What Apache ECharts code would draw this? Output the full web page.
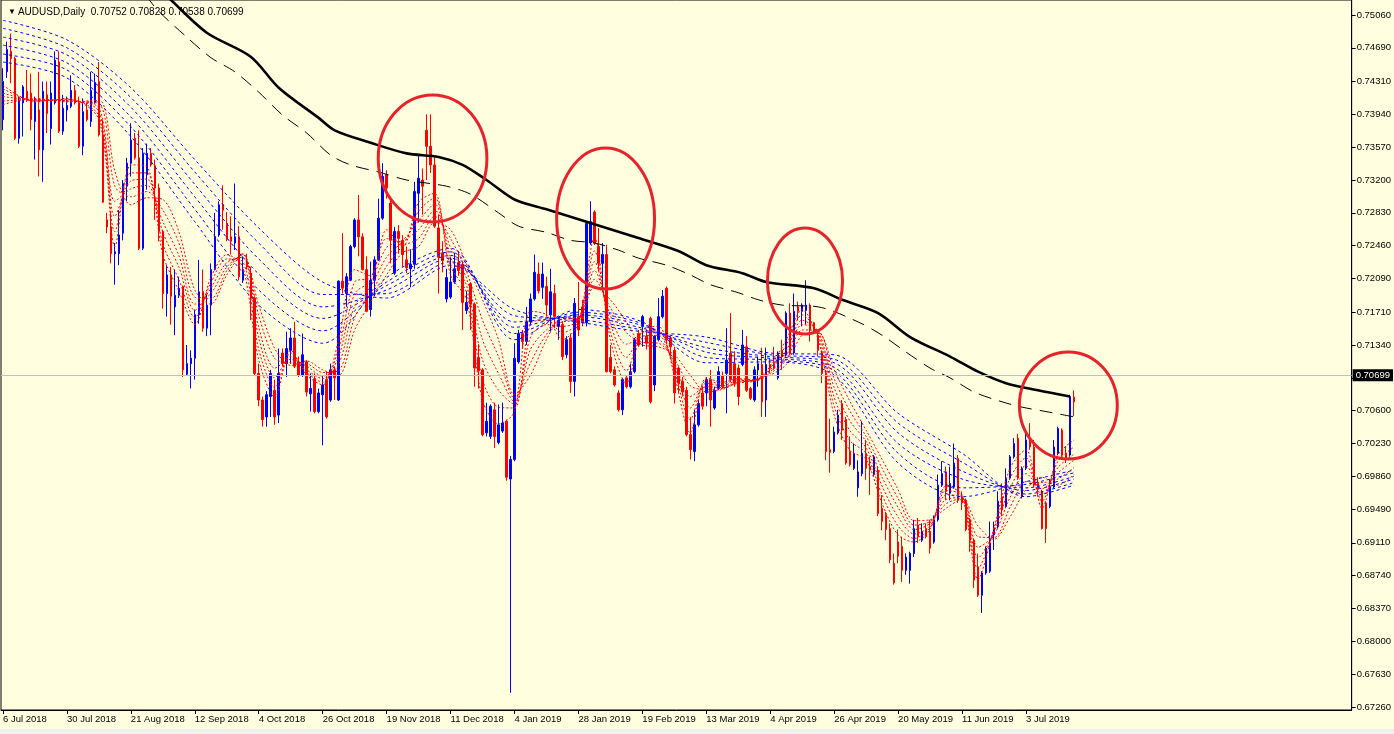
<!DOCTYPE html>
<html><head><meta charset="utf-8">
<script src="https://cdn.jsdelivr.net/npm/echarts@6/dist/echarts.min.js"></script>
<style>
html,body{margin:0;padding:0;background:#ffffe0;overflow:hidden;}
#c{position:absolute;left:0;top:0;width:1394px;height:734px;}
#strip{position:absolute;left:0;top:729px;width:1394px;height:5px;background:#f0f0ec;}
</style>
</head><body><div id="c"></div><div id="strip"></div>
<script>
// ---------- DATA ----------
const symbolName = 'AUDUSD,Daily';
const dateLabels = ['6 Jul 2018','30 Jul 2018','21 Aug 2018','12 Sep 2018','4 Oct 2018','26 Oct 2018','19 Nov 2018','11 Dec 2018','4 Jan 2019','28 Jan 2019','19 Feb 2019','13 Mar 2019','4 Apr 2019','26 Apr 2019','20 May 2019','11 Jun 2019','3 Jul 2019'];
const priceTickLabels = ['0.75060','0.74690','0.74310','0.73940','0.73570','0.73200','0.72830','0.72460','0.72090','0.71710','0.71340','0.70970','0.70600','0.70230','0.69860','0.69490','0.69110','0.68740','0.68370','0.68000','0.67630','0.67260'];
const bidPrice = 0.70699;
const slotCount = 338; // bars + empty right shift
// daily candles: [open, close, low, high]
const ohlc = [
[0.7388,0.7431,0.7376,0.7446],[0.7442,0.7467,0.7435,0.7476],[0.7465,0.7457,0.7429,0.7485],[0.7457,0.7367,0.7365,0.7459],[0.7367,0.7410,0.7361,0.7414],
[0.7407,0.7425,0.7369,0.7427],[0.7420,0.7410,0.7408,0.7444],[0.7418,0.7388,0.7376,0.7440],[0.7386,0.7408,0.7343,0.7414],[0.7399,0.7354,0.7324,0.7442],
[0.7354,0.7420,0.7318,0.7431],[0.7416,0.7395,0.7373,0.7431],[0.7378,0.7418,0.7360,0.7431],[0.7407,0.7455,0.7405,0.7465],[0.7453,0.7375,0.7373,0.7465],
[0.7375,0.7401,0.7371,0.7416],[0.7399,0.7404,0.7386,0.7414],[0.7403,0.7421,0.7401,0.7438],[0.7421,0.7407,0.7405,0.7427],[0.7407,0.7358,0.7356,0.7414],
[0.7358,0.7397,0.7348,0.7412],[0.7399,0.7388,0.7386,0.7407],[0.7386,0.7421,0.7380,0.7442],[0.7407,0.7430,0.7406,0.7440],[0.7431,0.7371,0.7369,0.7453],
[0.7371,0.7295,0.7294,0.7388],[0.7275,0.7267,0.7260,0.7283],[0.7267,0.7237,0.7226,0.7284],[0.7237,0.7239,0.7202,0.7249],[0.7237,0.7258,0.7224,0.7286],
[0.7260,0.7316,0.7252,0.7320],[0.7313,0.7339,0.7296,0.7345],[0.7339,0.7365,0.7324,0.7384],[0.7367,0.7345,0.7343,0.7373],[0.7345,0.7243,0.7241,0.7376],
[0.7243,0.7350,0.7241,0.7356],[0.7326,0.7350,0.7309,0.7361],[0.7350,0.7337,0.7335,0.7356],[0.7336,0.7311,0.7275,0.7343],[0.7311,0.7262,0.7251,0.7316],
[0.7262,0.7192,0.7175,0.7264],[0.7192,0.7213,0.7166,0.7224],[0.7213,0.7189,0.7157,0.7222],[0.7177,0.7190,0.7145,0.7219],[0.7190,0.7198,0.7187,0.7211],
[0.7200,0.7106,0.7098,0.7201],[0.7101,0.7113,0.7099,0.7134],[0.7113,0.7119,0.7085,0.7128],[0.7119,0.7168,0.7095,0.7174],[0.7168,0.7194,0.7158,0.7230],
[0.7194,0.7153,0.7149,0.7219],[0.7153,0.7179,0.7144,0.7191],[0.7179,0.7219,0.7145,0.7226],[0.7219,0.7256,0.7218,0.7283],[0.7258,0.7292,0.7256,0.7296],
[0.7292,0.7286,0.7264,0.7314],[0.7271,0.7253,0.7251,0.7284],[0.7256,0.7251,0.7236,0.7279],[0.7249,0.7256,0.7241,0.7316],[0.7256,0.7211,0.7207,0.7268],
[0.7207,0.7219,0.7204,0.7234],[0.7228,0.7222,0.7219,0.7237],[0.7215,0.7187,0.7162,0.7222],[0.7187,0.7102,0.7100,0.7189],[0.7102,0.7072,0.7065,0.7113],
[0.7072,0.7050,0.7042,0.7076],[0.7053,0.7078,0.7042,0.7082],[0.7076,0.7102,0.7053,0.7106],[0.7083,0.7053,0.7044,0.7095],[0.7055,0.7102,0.7046,0.7130],
[0.7125,0.7113,0.7110,0.7130],[0.7113,0.7130,0.7098,0.7149],[0.7128,0.7142,0.7113,0.7153],[0.7142,0.7110,0.7108,0.7160],[0.7115,0.7100,0.7098,0.7121],
[0.7100,0.7123,0.7098,0.7147],[0.7115,0.7081,0.7076,0.7117],[0.7079,0.7085,0.7059,0.7102],[0.7096,0.7059,0.7057,0.7102],[0.7059,0.7080,0.7057,0.7085],
[0.7078,0.7089,0.7021,0.7100],[0.7095,0.7053,0.7051,0.7104],[0.7072,0.7106,0.7070,0.7113],[0.7106,0.7097,0.7072,0.7110],[0.7072,0.7206,0.7071,0.7207],
[0.7206,0.7198,0.7192,0.7260],[0.7192,0.7211,0.7177,0.7215],[0.7207,0.7245,0.7206,0.7247],[0.7245,0.7275,0.7243,0.7277],[0.7275,0.7256,0.7234,0.7303],
[0.7256,0.7219,0.7218,0.7260],[0.7219,0.7172,0.7171,0.7234],[0.7174,0.7207,0.7166,0.7228],[0.7207,0.7230,0.7189,0.7234],[0.7230,0.7277,0.7229,0.7299],
[0.7277,0.7324,0.7275,0.7339],[0.7326,0.7311,0.7299,0.7331],[0.7294,0.7252,0.7226,0.7301],[0.7215,0.7262,0.7213,0.7267],[0.7262,0.7254,0.7237,0.7269],
[0.7252,0.7236,0.7222,0.7258],[0.7230,0.7221,0.7215,0.7245],[0.7220,0.7225,0.7199,0.7242],[0.7225,0.7307,0.7220,0.7318],[0.7305,0.7322,0.7272,0.7348],
[0.7320,0.7313,0.7281,0.7333],[0.7376,0.7358,0.7320,0.7394],[0.7358,0.7337,0.7328,0.7394],[0.7337,0.7268,0.7266,0.7346],[0.7266,0.7233,0.7192,0.7281],
[0.7238,0.7229,0.7216,0.7251],[0.7186,0.7210,0.7182,0.7220],[0.7188,0.7205,0.7186,0.7233],[0.7205,0.7220,0.7203,0.7238],[0.7227,0.7218,0.7212,0.7240],
[0.7225,0.7182,0.7151,0.7229],[0.7173,0.7182,0.7169,0.7195],[0.7203,0.7180,0.7151,0.7205],[0.7180,0.7108,0.7087,0.7182],[0.7120,0.7105,0.7085,0.7135],
[0.7106,0.7033,0.7031,0.7108],[0.7035,0.7048,0.7031,0.7069],[0.7031,0.7065,0.7028,0.7067],[0.7061,0.7031,0.7018,0.7069],[0.7024,0.7044,0.7022,0.7067],
[0.7037,0.7046,0.7035,0.7069],[0.7048,0.6985,0.6981,0.7050],[0.6983,0.7005,0.6742,0.7009],[0.7005,0.7119,0.7003,0.7136],[0.7115,0.7147,0.7113,0.7151],
[0.7147,0.7138,0.7130,0.7151],[0.7138,0.7160,0.7134,0.7177],[0.7160,0.7186,0.7156,0.7192],[0.7186,0.7216,0.7184,0.7236],[0.7214,0.7195,0.7192,0.7227],
[0.7199,0.7214,0.7186,0.7227],[0.7200,0.7179,0.7166,0.7211],[0.7168,0.7194,0.7149,0.7220],[0.7192,0.7166,0.7153,0.7202],[0.7155,0.7162,0.7140,0.7166],
[0.7157,0.7121,0.7117,0.7161],[0.7123,0.7140,0.7119,0.7144],[0.7142,0.7093,0.7080,0.7147],[0.7093,0.7181,0.7076,0.7187],[0.7166,0.7151,0.7144,0.7205],
[0.7177,0.7159,0.7155,0.7185],[0.7159,0.7271,0.7155,0.7273],[0.7249,0.7273,0.7247,0.7296],[0.7284,0.7249,0.7247,0.7286],[0.7245,0.7226,0.7217,0.7266],
[0.7226,0.7236,0.7194,0.7249],[0.7236,0.7104,0.7103,0.7247],[0.7120,0.7104,0.7102,0.7134],[0.7106,0.7089,0.7087,0.7110],[0.7080,0.7061,0.7059,0.7083],
[0.7061,0.7095,0.7055,0.7097],[0.7097,0.7087,0.7085,0.7100],[0.7087,0.7104,0.7085,0.7113],[0.7104,0.7140,0.7102,0.7142],[0.7147,0.7134,0.7132,0.7151],
[0.7155,0.7166,0.7132,0.7168],[0.7144,0.7136,0.7129,0.7151],[0.7164,0.7070,0.7068,0.7166],[0.7089,0.7144,0.7082,0.7145],[0.7140,0.7166,0.7138,0.7187],
[0.7166,0.7189,0.7164,0.7196],[0.7198,0.7140,0.7136,0.7200],[0.7142,0.7132,0.7121,0.7144],[0.7128,0.7080,0.7068,0.7132],[0.7108,0.7091,0.7080,0.7110],
[0.7093,0.7081,0.7076,0.7098],[0.7083,0.7033,0.7031,0.7087],[0.7033,0.7016,0.7005,0.7053],[0.7014,0.7044,0.7003,0.7061],[0.7044,0.7068,0.7042,0.7072],
[0.7080,0.7065,0.7061,0.7087],[0.7080,0.7095,0.7065,0.7098],[0.7095,0.7072,0.7042,0.7106],[0.7063,0.7083,0.7061,0.7087],[0.7085,0.7104,0.7083,0.7110],
[0.7100,0.7087,0.7085,0.7104],[0.7102,0.7117,0.7057,0.7153],[0.7125,0.7095,0.7093,0.7170],[0.7113,0.7091,0.7087,0.7127],[0.7108,0.7076,0.7066,0.7112],
[0.7112,0.7134,0.7110,0.7151],[0.7132,0.7083,0.7081,0.7144],[0.7085,0.7074,0.7072,0.7087],[0.7072,0.7106,0.7070,0.7110],[0.7106,0.7113,0.7087,0.7121],
[0.7112,0.7070,0.7053,0.7131],[0.7072,0.7112,0.7053,0.7131],[0.7112,0.7108,0.7102,0.7119],[0.7113,0.7108,0.7106,0.7132],[0.7097,0.7125,0.7095,0.7127],
[0.7128,0.7121,0.7106,0.7140],[0.7123,0.7170,0.7121,0.7172],[0.7170,0.7125,0.7123,0.7181],[0.7125,0.7172,0.7123,0.7192],[0.7177,0.7172,0.7162,0.7183],
[0.7172,0.7179,0.7155,0.7181],[0.7173,0.7179,0.7157,0.7207],[0.7179,0.7151,0.7138,0.7181],[0.7159,0.7149,0.7147,0.7160],[0.7145,0.7128,0.7121,0.7147],
[0.7125,0.7102,0.7091,0.7128],[0.7102,0.7014,0.7004,0.7106],[0.7016,0.7013,0.6990,0.7051],[0.7014,0.7036,0.7012,0.7042],[0.7035,0.7055,0.7033,0.7061],
[0.7068,0.7038,0.7027,0.7072],[0.7050,0.7001,0.6999,0.7053],[0.7014,0.6999,0.6997,0.7031],[0.6995,0.7012,0.6993,0.7023],[0.6973,0.6991,0.6963,0.7004],
[0.6989,0.7012,0.6986,0.7048],[0.7012,0.6995,0.6982,0.7027],[0.6997,0.6993,0.6965,0.7008],[0.6988,0.7008,0.6986,0.7010],[0.6993,0.6944,0.6941,0.6997],
[0.6950,0.6935,0.6925,0.6965],[0.6942,0.6926,0.6914,0.6946],[0.6927,0.6892,0.6888,0.6933],[0.6888,0.6866,0.6864,0.6899],[0.6912,0.6896,0.6888,0.6926],
[0.6907,0.6880,0.6867,0.6918],[0.6880,0.6895,0.6875,0.6899],[0.6880,0.6899,0.6865,0.6901],[0.6899,0.6927,0.6895,0.6937],[0.6931,0.6918,0.6911,0.6939],
[0.6914,0.6924,0.6912,0.6933],[0.6927,0.6918,0.6916,0.6933],[0.6924,0.6905,0.6899,0.6937],[0.6912,0.6937,0.6910,0.6942],[0.6937,0.6976,0.6935,0.6988],
[0.6976,0.6989,0.6974,0.7003],[0.6991,0.6969,0.6959,0.6997],[0.6967,0.6978,0.6959,0.6997],[0.6974,0.7001,0.6972,0.7023],[0.7006,0.6959,0.6956,0.7010],
[0.6963,0.6956,0.6948,0.6969],[0.6959,0.6926,0.6924,0.6961],[0.6937,0.6914,0.6901,0.6939],[0.6914,0.6869,0.6860,0.6916],[0.6884,0.6852,0.6850,0.6899],
[0.6852,0.6877,0.6832,0.6879],[0.6877,0.6905,0.6875,0.6907],[0.6879,0.6911,0.6877,0.6935],[0.6920,0.6927,0.6903,0.6935],[0.6929,0.6958,0.6927,0.6969],
[0.6963,0.6948,0.6941,0.6978],[0.6952,0.6984,0.6950,0.6995],[0.6984,0.7008,0.6982,0.7010],[0.7008,0.7023,0.7006,0.7029],[0.7029,0.6984,0.6982,0.7034],
[0.6963,0.6995,0.6961,0.6997],[0.6995,0.7027,0.6993,0.7038],[0.7027,0.7019,0.7016,0.7046],[0.7019,0.6976,0.6974,0.7027],[0.6978,0.6972,0.6965,0.6985],
[0.6969,0.6927,0.6926,0.6971],[0.6956,0.6927,0.6911,0.6958],[0.6952,0.6974,0.6950,0.6982],[0.6974,0.7019,0.6972,0.7027],[0.7012,0.7040,0.7010,0.7042],
[0.7038,0.7010,0.7008,0.7040],[0.7012,0.7006,0.7001,0.7020],[0.7010,0.7076,0.7008,0.7078],[0.70752,0.70699,0.70538,0.70828]
];
// long black moving average (solid) sampled at bar indices
const slowMaIdx = [36,42,51,62,69,79,83,92,101,109,115,121,128,136,146,158,169,176,185,191,203,210,219,227,237,244,251,259,267];
const slowMaVal = [0.7549,0.7523,0.7486,0.7459,0.7424,0.7390,0.7376,0.7362,0.7350,0.7346,0.7337,0.7320,0.7298,0.7287,0.7273,0.7256,0.7240,0.7224,0.7215,0.7205,0.7198,0.7185,0.7170,0.7143,0.7121,0.7104,0.7091,0.7083,0.7076];
// long black moving average (dashed)
const dashMaIdx = [33,38,46,52,58,64,70,76,82,87,94,101,111,117,124,129,136,142,148,154,159,166,172,177,184,189,195,204,214,220,226,232,237,243,250,255,261,268];
const dashMaVal = [0.7548,0.7515,0.7481,0.7458,0.7442,0.7419,0.7393,0.7373,0.7348,0.7337,0.7329,0.7320,0.7313,0.7304,0.7283,0.7268,0.7261,0.7252,0.7249,0.7241,0.7232,0.7224,0.7213,0.7202,0.7193,0.7185,0.7179,0.7177,0.7160,0.7145,0.7126,0.7108,0.7097,0.7081,0.7070,0.7064,0.7059,0.7053];
// short guppy averages (red, dotted), sampled at bar indices
const shortIdx = [0,8,16,24,28,32,36,40,44,48,52,56,60,64,68,72,76,80,84,88,92,96,100,104,108,112,116,120,124,128,132,136,140,144,148,152,156,160,164,168,172,176,180,184,188,192,196,200,204,208,212,216,220,224,228,232,236,240,244,248,252,256,260,264,268];
const short1 = [0.7427,0.7408,0.7412,0.7388,0.7245,0.7337,0.7335,0.7236,0.7195,0.7157,0.7210,0.7236,0.7222,0.7117,0.7075,0.7128,0.7100,0.7089,0.7140,0.7219,0.7212,0.7264,0.7245,0.7295,0.7305,0.7213,0.7185,0.7072,0.7045,0.7059,0.7172,0.7168,0.7140,0.7158,0.7255,0.7140,0.7090,0.7151,0.7155,0.7100,0.7035,0.7097,0.7092,0.7096,0.7095,0.7110,0.7140,0.7174,0.7140,0.7055,0.7015,0.7005,0.6955,0.6920,0.6912,0.6926,0.6975,0.6965,0.6870,0.6928,0.6995,0.7016,0.6950,0.7010,0.7027];
const short2 = [0.7423,0.7409,0.7411,0.7392,0.7262,0.7328,0.7328,0.7248,0.7208,0.7165,0.7204,0.7231,0.7228,0.7129,0.7086,0.7125,0.7103,0.7092,0.7130,0.7205,0.7210,0.7254,0.7250,0.7285,0.7300,0.7223,0.7193,0.7095,0.7064,0.7063,0.7158,0.7162,0.7148,0.7160,0.7240,0.7149,0.7105,0.7148,0.7150,0.7105,0.7050,0.7094,0.7090,0.7095,0.7094,0.7108,0.7134,0.7168,0.7145,0.7065,0.7026,0.7012,0.6965,0.6930,0.6916,0.6928,0.6970,0.6964,0.6882,0.6926,0.6984,0.7007,0.6958,0.7003,0.7019];
const short3 = [0.7418,0.7410,0.7410,0.7397,0.7279,0.7319,0.7321,0.7261,0.7222,0.7173,0.7198,0.7227,0.7233,0.7142,0.7097,0.7121,0.7106,0.7096,0.7121,0.7192,0.7206,0.7244,0.7252,0.7274,0.7293,0.7233,0.7201,0.7117,0.7083,0.7067,0.7143,0.7157,0.7155,0.7162,0.7228,0.7158,0.7120,0.7144,0.7145,0.7109,0.7063,0.7091,0.7088,0.7094,0.7094,0.7106,0.7128,0.7162,0.7148,0.7075,0.7037,0.7018,0.6975,0.6940,0.6921,0.6930,0.6965,0.6963,0.6894,0.6923,0.6973,0.6998,0.6965,0.6996,0.7011];
const short4 = [0.7414,0.7410,0.7409,0.7401,0.7296,0.7310,0.7314,0.7273,0.7235,0.7180,0.7192,0.7222,0.7236,0.7154,0.7108,0.7118,0.7110,0.7099,0.7112,0.7178,0.7200,0.7233,0.7250,0.7264,0.7286,0.7244,0.7209,0.7140,0.7102,0.7070,0.7129,0.7151,0.7160,0.7163,0.7218,0.7167,0.7135,0.7141,0.7140,0.7114,0.7076,0.7087,0.7086,0.7093,0.7094,0.7104,0.7122,0.7157,0.7150,0.7086,0.7048,0.7025,0.6985,0.6951,0.6926,0.6933,0.6960,0.6962,0.6906,0.6920,0.6962,0.6989,0.6972,0.6990,0.7004];
const short5 = [0.7409,0.7411,0.7409,0.7406,0.7313,0.7301,0.7307,0.7286,0.7249,0.7188,0.7186,0.7218,0.7237,0.7167,0.7119,0.7114,0.7113,0.7103,0.7105,0.7165,0.7192,0.7223,0.7245,0.7254,0.7279,0.7254,0.7217,0.7162,0.7121,0.7074,0.7114,0.7146,0.7163,0.7164,0.7208,0.7176,0.7148,0.7137,0.7136,0.7118,0.7088,0.7084,0.7085,0.7092,0.7094,0.7102,0.7117,0.7151,0.7150,0.7096,0.7059,0.7031,0.6995,0.6961,0.6931,0.6935,0.6955,0.6961,0.6918,0.6917,0.6951,0.6980,0.6979,0.6983,0.6996];
const short6 = [0.7405,0.7412,0.7408,0.7410,0.7330,0.7292,0.7300,0.7298,0.7262,0.7196,0.7180,0.7213,0.7236,0.7179,0.7130,0.7111,0.7116,0.7106,0.7100,0.7151,0.7182,0.7213,0.7238,0.7245,0.7272,0.7264,0.7225,0.7185,0.7140,0.7078,0.7100,0.7140,0.7165,0.7164,0.7200,0.7185,0.7160,0.7134,0.7132,0.7123,0.7100,0.7081,0.7084,0.7091,0.7093,0.7100,0.7112,0.7145,0.7148,0.7106,0.7070,0.7038,0.7005,0.6971,0.6936,0.6937,0.6950,0.6960,0.6930,0.6915,0.6940,0.6971,0.6985,0.6976,0.6988];
// long guppy averages (blue, dotted)
const longIdx = [0,16,32,48,64,80,96,112,128,144,160,176,192,208,224,240,256,268];
const long1 = [0.7453,0.7435,0.7369,0.7273,0.7179,0.7136,0.7210,0.7243,0.7140,0.7174,0.7160,0.7114,0.7115,0.7100,0.7001,0.6963,0.6980,0.6993];
const long2 = [0.7462,0.7444,0.7380,0.7287,0.7196,0.7150,0.7205,0.7239,0.7147,0.7171,0.7158,0.7120,0.7117,0.7105,0.7012,0.6973,0.6977,0.6990];
const long3 = [0.7472,0.7452,0.7391,0.7301,0.7214,0.7164,0.7201,0.7235,0.7154,0.7168,0.7156,0.7126,0.7119,0.7109,0.7023,0.6983,0.6973,0.6986];
const long4 = [0.7481,0.7461,0.7402,0.7315,0.7231,0.7177,0.7196,0.7232,0.7160,0.7166,0.7153,0.7131,0.7121,0.7114,0.7035,0.6992,0.6970,0.6983];
const long5 = [0.7491,0.7469,0.7413,0.7329,0.7249,0.7191,0.7192,0.7228,0.7167,0.7163,0.7151,0.7137,0.7123,0.7118,0.7046,0.7002,0.6966,0.6979];
const long6 = [0.7500,0.7478,0.7424,0.7343,0.7266,0.7205,0.7187,0.7224,0.7174,0.7160,0.7149,0.7143,0.7125,0.7123,0.7057,0.7012,0.6963,0.6976];
// hand-drawn circle annotations: [centre bar, centre price, x-radius in bars, y-radius in price]
const circleNotes = [
  [107.5, 0.73443, 13.6, 0.00716],
  [150.8, 0.72767, 12.25, 0.00795],
  [200.7, 0.72062, 9.4, 0.00597],
  [266.6, 0.70659, 12.25, 0.00603]
];

// ---------- CHART ----------
const FONT = 'Liberation Sans';
const pairs = (idx, vals) => idx.map((x, k) => [x, vals[k]]);
const categories = Array.from({length: slotCount}, (_, i) => String(i));
const tickVals = priceTickLabels.map(Number);
const last = ohlc[ohlc.length - 1];
const header = symbolName + '  ' + [last[0], last[3], last[2], last[1]].map(v => v.toFixed(5)).join(' ');
const isLabelSlot = i => i % 16 === 0 && i / 16 < dateLabels.length;

function guppy(idx, vals, color, dash) {
  return {type: 'line', xAxisIndex: 1, data: pairs(idx, vals), showSymbol: false, smooth: 0.3,
    lineStyle: {color: color, width: 1, type: dash}, silent: true, z: 3};
}

const chart = echarts.init(document.getElementById('c'), null, {renderer: 'canvas'});
chart.setOption({
  animation: false,
  backgroundColor: '#ffffe0',
  title: {
    text: '{t|▼}' + header, left: 3, top: 2,
    textStyle: {fontSize: 10, fontWeight: 'normal', fontFamily: FONT, color: '#000',
      rich: {t: {fontSize: 8, padding: [0, 2, 0, 0], color: '#000'}}}
  },
  grid: {left: 1, top: 0, right: 42, bottom: 24, show: true, borderColor: '#000', borderWidth: 1, backgroundColor: 'transparent'},
  xAxis: [
    {type: 'category', data: categories, boundaryGap: true,
      axisLine: {show: true, onZero: false, lineStyle: {color: '#000', width: 1}},
      axisTick: {show: true, alignWithLabel: true, length: 4, interval: isLabelSlot, lineStyle: {color: '#000'}},
      axisLabel: {interval: isLabelSlot, formatter: (v, i) => dateLabels[i / 16], align: 'left', margin: 4,
        color: '#000', fontSize: 9.5, fontFamily: FONT},
      splitLine: {show: false}},
    {type: 'value', min: -0.5, max: slotCount - 0.5, show: false, axisLine: {onZero: false}}
  ],
  yAxis: {
    type: 'value', position: 'right', min: 0.67226, max: 0.75229, scale: true,
    splitLine: {show: false},
    axisLine: {show: true, onZero: false, lineStyle: {color: '#000'}},
    axisTick: {show: true, inside: false, length: 4, customValues: tickVals, lineStyle: {color: '#000'}},
    axisLabel: {customValues: tickVals, formatter: v => v.toFixed(5), color: '#000', fontSize: 9.5, fontFamily: FONT, margin: 5}
  },
  series: [
    {type: 'candlestick', xAxisIndex: 0, data: ohlc, barWidth: 2, silent: true, z: 2,
      itemStyle: {color: '#0000ff', color0: '#ff0000', borderColor: '#0000ff', borderColor0: '#ff0000', borderColorDoji: '#ff0000', borderWidth: 1},
      markLine: {silent: true, symbol: 'none', animation: false,
        lineStyle: {color: '#c0c0c0', width: 1, type: 'solid'},
        label: {show: true, position: 'end', distance: 1, formatter: bidPrice.toFixed(5), color: '#fff', backgroundColor: '#000',
          padding: [1, 3, 1, 3], fontSize: 9.5, fontFamily: FONT},
        data: [{yAxis: bidPrice}]}},
    guppy(longIdx, long1, '#0000ff', [3, 3]),
    guppy(longIdx, long2, '#0000ff', [3, 3]),
    guppy(longIdx, long3, '#0000ff', [3, 3]),
    guppy(longIdx, long4, '#0000ff', [3, 3]),
    guppy(longIdx, long5, '#0000ff', [3, 3]),
    guppy(longIdx, long6, '#0000ff', [3, 3]),
    guppy(shortIdx, short1, '#ff0000', [2, 2]),
    guppy(shortIdx, short2, '#ff0000', [2, 2]),
    guppy(shortIdx, short3, '#ff0000', [2, 2]),
    guppy(shortIdx, short4, '#ff0000', [2, 2]),
    guppy(shortIdx, short5, '#ff0000', [2, 2]),
    guppy(shortIdx, short6, '#ff0000', [2, 2]),
    {type: 'line', xAxisIndex: 1, data: pairs(slowMaIdx, slowMaVal), showSymbol: false, smooth: 0.3,
      lineStyle: {color: '#000', width: 2.6}, silent: true, z: 4},
    {type: 'line', xAxisIndex: 1, data: pairs(dashMaIdx, dashMaVal), showSymbol: false, smooth: 0.3,
      lineStyle: {color: '#000', width: 1, type: [13, 8]}, silent: true, z: 4},
    {type: 'custom', xAxisIndex: 1, data: circleNotes, silent: true, clip: false, z: 6,
      renderItem: (params, api) => {
        const c = api.coord([api.value(0), api.value(1)]);
        const r = api.coord([api.value(0) + api.value(2), api.value(1) + api.value(3)]);
        return {type: 'ellipse', shape: {cx: c[0], cy: c[1], rx: Math.abs(r[0] - c[0]), ry: Math.abs(c[1] - r[1])},
          style: {fill: 'none', stroke: '#e8222a', lineWidth: 3}};
      }}
  ]
});
</script></body></html>
